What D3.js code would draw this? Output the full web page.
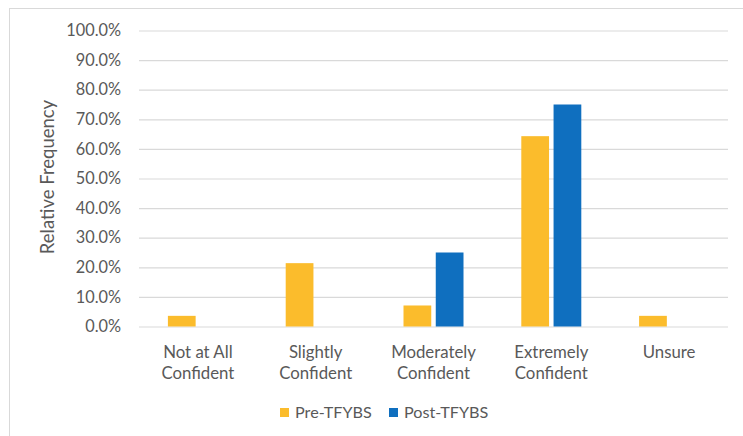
<!DOCTYPE html>
<html>
<head>
<meta charset="utf-8">
<script src="https://cdn.jsdelivr.net/npm/d3@7"></script>
<style>
  body { margin: 0; background: #fff; }
  text { font-family: Lato, "Open Sans", sans-serif; fill: #595959; }
</style>
</head>
<body>
<div class="chart_wrapper"></div>
<script>
// response categories (two-line labels)
const categories = ["Not at All Confident", "Slightly Confident", "Moderately Confident", "Extremely Confident", "Unsure"]
const categoryLines = [["Not at All", "Confident"], ["Slightly", "Confident"], ["Moderately", "Confident"], ["Extremely", "Confident"], ["Unsure"]]
const seriesNames = ["Pre-TFYBS", "Post-TFYBS"]
const preValues = [0.036, 0.214, 0.071, 0.643, 0.036]
const postValues = [0, 0, 0.25, 0.75, 0]
const yTicks = [0, 0.1, 0.2, 0.3, 0.4, 0.5, 0.6, 0.7, 0.8, 0.9, 1.0]
const colors = ["#FBBC2C", "#0F6FBF"]

const W = 743, H = 436
const margin = {top: 30.5, right: 15, bottom: 109.5, left: 139}
const width = W - margin.left - margin.right,
      height = H - margin.top - margin.bottom

const svg = d3.select(".chart_wrapper")
  .append("svg")
    .attr("width", W)
    .attr("height", H)

// chart area border
svg.append("rect")
  .attr("x", 9.5).attr("y", 8.5)
  .attr("width", W).attr("height", H)
  .attr("fill", "none")
  .attr("stroke", "#d9d9d9")

const g = svg.append("g")
  .attr("transform", "translate(" + margin.left + "," + margin.top + ")")

const table = categories.map((c, i) => ({cat: c, vals: [preValues[i], postValues[i]]}))

const xScale = d3.scaleBand()
  .domain(categories)
  .range([0, width])

const xInner = d3.scaleBand()
  .domain(seriesNames)
  .range([xScale.bandwidth() / 2 - 30, xScale.bandwidth() / 2 + 30])
  .paddingInner(0.14)
  .paddingOuter(0)

const yScale = d3.scaleLinear()
  .domain([0, 1])
  .range([height, 0])

// gridlines
const yAxis = d3.axisLeft(yScale)
  .tickValues(yTicks)
  .tickFormat(d3.format(".1%"))
  .tickSize(-width)
  .tickPadding(18)

g.append("g")
  .call(yAxis)
  .call(a => a.select(".domain").remove())
  .call(a => a.selectAll("line").attr("stroke", "#d9d9d9").attr("stroke-width", 1.2))
  .call(a => a.selectAll("text").attr("font-size", 16.3).style("fill", "#595959"))

// bars
const groups = g.selectAll(".grp")
  .data(table)
  .enter()
  .append("g")
    .attr("transform", d => "translate(" + xScale(d.cat) + ",0)")

groups.selectAll("rect")
  .data(d => d.vals.map((v, i) => ({name: seriesNames[i], v: v, i: i})))
  .enter()
  .append("rect")
    .filter(d => d.v > 0)
    .attr("x", d => xInner(d.name))
    .attr("width", xInner.bandwidth())
    .attr("y", d => yScale(d.v))
    .attr("height", d => height - yScale(d.v))
    .attr("fill", d => colors[d.i])

// category labels
const xl = g.append("g")
  .attr("transform", "translate(0," + height + ")")
xl.selectAll("text")
  .data(categories)
  .enter()
  .append("text")
    .attr("x", d => xScale(d) + xScale.bandwidth() / 2)
    .attr("y", 31)
    .attr("text-anchor", "middle")
    .attr("font-size", 16.8)
    .selectAll("tspan")
    .data((d, i) => categoryLines[i])
    .enter()
    .append("tspan")
      .attr("x", function() { return d3.select(this.parentNode).attr("x") })
      .attr("dy", (d, i) => i === 0 ? 0 : 21)
      .text(d => d)

// y axis title
svg.append("text")
  .attr("transform", "translate(54," + 177 + ") rotate(-90)")
  .attr("text-anchor", "middle")
  .attr("font-size", 18.5)
  .text("Relative Frequency")

// legend
const legendX = [280, 389]
const legend = svg.selectAll(".leg")
  .data(seriesNames)
  .enter()
  .append("g")
    .attr("transform", (d, i) => "translate(" + legendX[i] + ",408)")
legend.append("rect")
  .attr("width", 9).attr("height", 9)
  .attr("fill", (d, i) => colors[i])
legend.append("text")
  .attr("x", 15).attr("y", 10)
  .attr("font-size", 16.2)
  .text(d => d)
</script>
</body>
</html>
